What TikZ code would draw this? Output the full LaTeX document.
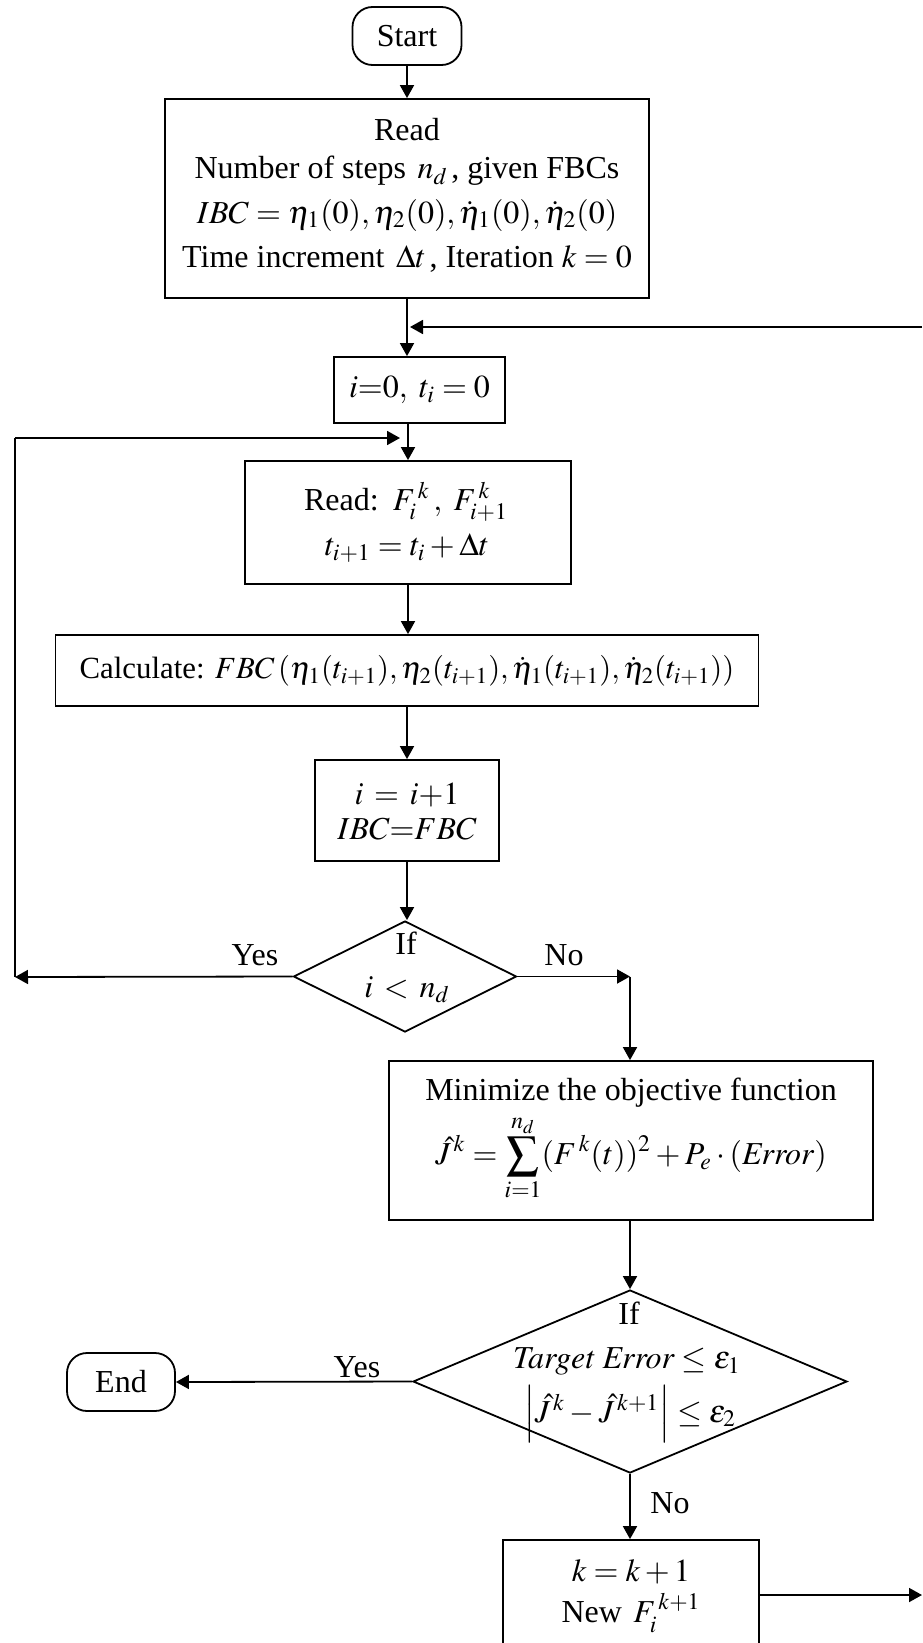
\documentclass[tikz,border=0pt]{standalone}
\usepackage{mathptmx}
\usepackage{fontspec}
\setmainfont{Liberation Serif}
\usetikzlibrary{arrows.meta,shapes.geometric,calc}

\begin{document}
\begin{tikzpicture}[x=0.5pt,y=-0.5pt,
  line width=0.9pt,
  every node/.style={inner sep=0pt, font=\fontsize{16pt}{20pt}\selectfont},
  boxed/.style={draw, rectangle},
  term/.style={draw, rectangle, rounded corners=10pt},
  choice/.style={draw, diamond},
  flow/.style={-{Triangle[length=6.5pt,width=7pt]}},
]
\useasboundingbox (0,0) rectangle (922,1643);

% ---- main column ----
\node[term, minimum width=54.5pt, minimum height=29pt] (start) at (407,36) {Start};

\node[boxed, minimum width=242pt, minimum height=99.5pt] (read) at (407,198.5) {};
\node (readA) at (407,130) {Read};
\node (readB) at (407,171) {Number of steps $\,n_d\,$, given FBCs};
\node (readC) at (407,215) {$IBC=\eta_1(0),\eta_2(0),\dot\eta_1(0),\dot\eta_2(0)$};
\node (readD) at (407,259) {Time increment $\,\Delta t\,$, Iteration $k=0$};

\node[boxed, minimum width=85.5pt, minimum height=33pt] (init) at (419.5,390) {$i{=}0,\ t_i=0$};

\node[boxed, minimum width=163pt, minimum height=61.5pt] (readF) at (408,522.5) {};
\node (readFa) at (406,502) {Read: $\,F_i^{\,k}\,,\ F_{i+1}^{\,k}$};
\node (readFb) at (407,548) {$t_{i+1}=t_i+\Delta t$};

\node[boxed, minimum width=351.5pt, minimum height=35.5pt] (calc) at (407,670.5) {};
\node[font=\fontsize{15.4pt}{20pt}\selectfont] (calcT) at (407,671)
  {Calculate: $FBC\,(\eta_1(t_{i+1}),\eta_2(t_{i+1}),\dot\eta_1(t_{i+1}),\dot\eta_2(t_{i+1}))$};

\node[boxed, minimum width=92pt, minimum height=50.5pt] (incr) at (407,810.5) {};
\node (incra) at (407,795) {$i\,=\,i{+}1$};
\node (incrb) at (407,829) {$IBC{=}FBC$};

\node[choice, minimum width=111.5pt, minimum height=55.5pt] (dec1) at (405,976.5) {};
\node (dec1a) at (406,943) {If};
\node (dec1b) at (407,990) {$i\,<\,n_d$};

\node (yes1) at (255,955) {Yes};
\node (no1) at (564,955) {No};

% ---- right column ----
\node[boxed, minimum width=242pt, minimum height=79.5pt] (minobj) at (631,1140.5) {};
\node (minobja) at (631,1093) {Minimize the objective function};
\node (minobjb) at (631,1158) {$\displaystyle \hat J^{\,k}=\sum_{i=1}^{n_d}(F^{\,k}(t))^2+P_e\cdot(\mathit{Error})$};

\node[choice, minimum width=217pt, minimum height=91.5pt] (dec2) at (630,1381.5) {};
\node (dec2a) at (629,1313) {If};
\node (dec2b) at (627,1361) {$\mathit{Target\ Error}\le\varepsilon_1$};
\node (dec2c) at (630,1414) {$\Big|\hat J^{\,k}-\hat J^{\,k+1}\Big|\le\varepsilon_2$};

\node[term, minimum width=54pt, minimum height=29pt] (end) at (121,1382) {End};
\node (yes2) at (357,1367) {Yes};
\node (no2) at (670,1503) {No};

\node[boxed, minimum width=128pt, minimum height=55pt] (update) at (631,1595) {};
\node (updatea) at (631,1572) {$k=k+1$};
\node (updateb) at (631,1613) {New $\,F_i^{\,k+1}$};

% ---- free ends of connectors ----
\coordinate (fbR) at (922,327);
\coordinate (yesL) at (15,977);
\coordinate (loopTop) at (15,438);
\coordinate (loopIn) at (400,438);
\coordinate (noC) at (630,976.5);
\coordinate (upR) at (922,1595);

% ---- connectors ----
\draw[flow] (start.south) -- (read.north);
\draw[flow] (read.south) -- (read.south |- init.north);
\draw[flow] (fbR) -- ($(read.south |- fbR)+(3,0)$);
\draw[flow] (readF.north |- init.south) -- (readF.north);
\draw[flow] (loopTop) -- (loopIn);
\draw (yesL) -- (loopTop);
\draw[flow] (readF.south) -- (readF.south |- calc.north);
\draw[flow] (calc.south) -- (incr.north);
\draw[flow] (incr.south) -- (incr.south |- dec1.north);
\draw[flow] (dec1.west) -- (yesL);
\draw[flow] (dec1.east) -- (noC);
\draw[flow] (noC) -- (minobj.north -| noC);
\draw[flow] (minobj.south -| dec2.north) -- (dec2.north);
\draw[flow] (dec2.west) -- (end.east);
\draw[flow] (dec2.south) -- (dec2.south |- update.north);
\draw[flow] (update.east) -- (upR);
\end{tikzpicture}
\end{document}
